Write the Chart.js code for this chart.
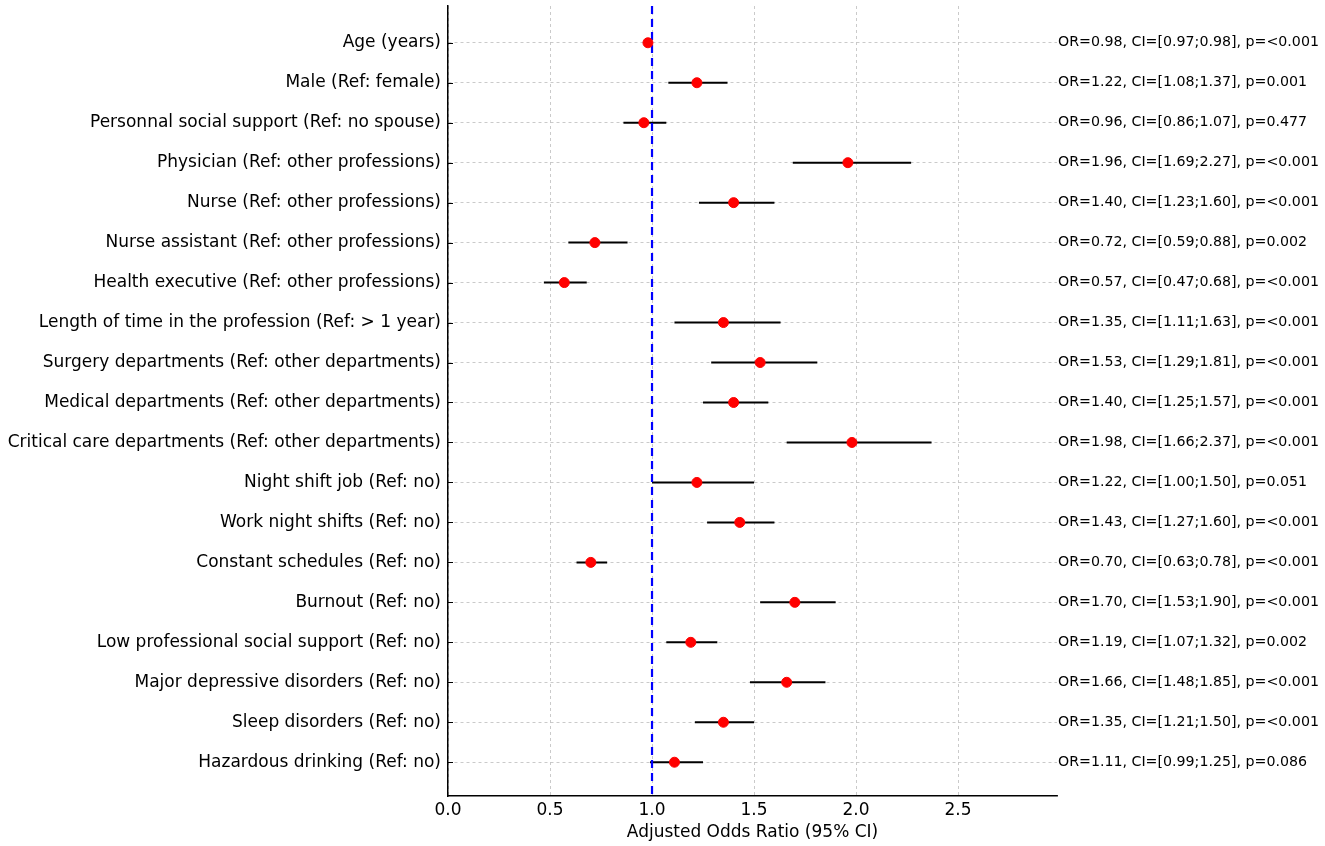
<!DOCTYPE html>
<html>
<head>
<meta charset="utf-8">
<script src="https://cdn.jsdelivr.net/npm/chart.js@4.4.1/dist/chart.umd.min.js"></script>
<style>
  html, body { margin: 0; padding: 0; background: #fff; }
  #wrap { width: 1325px; height: 846px; position: relative; }
</style>
</head>
<body>
<div id="wrap"><canvas id="forest"></canvas></div>
<script>
/* Forest plot — adjusted odds ratios */
const labels = [
  'Age (years)',
  'Male (Ref: female)',
  'Personnal social support (Ref: no spouse)',
  'Physician (Ref: other professions)',
  'Nurse (Ref: other professions)',
  'Nurse assistant (Ref: other professions)',
  'Health executive (Ref: other professions)',
  'Length of time in the profession (Ref: > 1 year)',
  'Surgery departments (Ref: other departments)',
  'Medical departments (Ref: other departments)',
  'Critical care departments (Ref: other departments)',
  'Night shift job (Ref: no)',
  'Work night shifts (Ref: no)',
  'Constant schedules (Ref: no)',
  'Burnout (Ref: no)',
  'Low professional social support (Ref: no)',
  'Major depressive disorders (Ref: no)',
  'Sleep disorders (Ref: no)',
  'Hazardous drinking (Ref: no)'
];
const oddsRatio = [0.98, 1.22, 0.96, 1.96, 1.40, 0.72, 0.57, 1.35, 1.53, 1.40, 1.98, 1.22, 1.43, 0.70, 1.70, 1.19, 1.66, 1.35, 1.11];
const ciLow     = [0.97, 1.08, 0.86, 1.69, 1.23, 0.59, 0.47, 1.11, 1.29, 1.25, 1.66, 1.00, 1.27, 0.63, 1.53, 1.07, 1.48, 1.21, 0.99];
const ciHigh    = [0.98, 1.37, 1.07, 2.27, 1.60, 0.88, 0.68, 1.63, 1.81, 1.57, 2.37, 1.50, 1.60, 0.78, 1.90, 1.32, 1.85, 1.50, 1.25];
const pValues   = ['<0.001', '0.001', '0.477', '<0.001', '<0.001', '0.002', '<0.001', '<0.001', '<0.001', '<0.001',
                   '<0.001', '0.051', '<0.001', '<0.001', '<0.001', '0.002', '<0.001', '<0.001', '0.086'];
const xTicks    = [0.0, 0.5, 1.0, 1.5, 2.0, 2.5];

const FONT = "'DejaVu Sans', sans-serif";
const Y_MIN = -0.92, Y_MAX = 18.85;

const datasets = [];

// CI whiskers, one short line per row
labels.forEach((_, i) => {
  datasets.push({
    type: 'line',
    data: [{ x: ciLow[i], y: i }, { x: ciHigh[i], y: i }],
    borderColor: '#000',
    borderWidth: 2,
    pointRadius: 0,
    pointHoverRadius: 0,
    fill: false,
    order: 2,
  });
});

// reference line at OR = 1
datasets.push({
  type: 'line',
  data: [{ x: 1, y: Y_MIN }, { x: 1, y: Y_MAX }],
  borderColor: '#0000ff',
  borderWidth: 2.2,
  borderDash: [8, 5],
  pointRadius: 0,
  fill: false,
  order: 1,
});

// point estimates
datasets.push({
  type: 'scatter',
  data: oddsRatio.map((v, i) => ({ x: v, y: i })),
  backgroundColor: '#ff0000',
  borderColor: '#ff0000',
  pointRadius: 5,
  order: 0,
});

const annotations = {
  id: 'annotations',
  afterDraw(chart) {
    const { ctx, chartArea, scales } = chart;
    ctx.save();
    ctx.fillStyle = '#000';
    ctx.font = '14.2px ' + FONT;
    ctx.textAlign = 'left';
    ctx.textBaseline = 'middle';
    labels.forEach((_, i) => {
      const txt = `OR=${oddsRatio[i].toFixed(2)}, CI=[${ciLow[i].toFixed(2)};${ciHigh[i].toFixed(2)}], p=${pValues[i]}`;
      ctx.fillText(txt, chartArea.right + 1, scales.y.getPixelForValue(i));
    });
    // inward y tick marks
    ctx.strokeStyle = '#000';
    ctx.lineWidth = 1;
    labels.forEach((_, i) => {
      const y = Math.round(scales.y.getPixelForValue(i)) + 0.5;
      ctx.beginPath();
      ctx.moveTo(chartArea.left, y);
      ctx.lineTo(chartArea.left + 5, y);
      ctx.stroke();
    });
    ctx.restore();
  }
};

new Chart(document.getElementById('forest'), {
  data: { datasets },
  plugins: [annotations],
  options: {
    responsive: true,
    maintainAspectRatio: false,
    animation: false,
    layout: { padding: { top: 5, right: 268, bottom: 3, left: 0 } },
    plugins: {
      legend: { display: false },
      tooltip: { enabled: false }
    },
    scales: {
      x: {
        type: 'linear',
        min: 0,
        max: 2.985,
        afterBuildTicks: s => { s.ticks = xTicks.map(v => ({ value: v })); },
        ticks: {
          color: '#000',
          font: { family: FONT, size: 17 },
          padding: 4,
          maxRotation: 0,
          callback: v => Number(v).toFixed(1)
        },
        grid: { color: '#bdbdbd', lineWidth: 0.8, drawTicks: false },
        border: { display: true, color: '#000', width: 1.5, dash: [3, 3] },
        title: {
          display: true,
          text: 'Adjusted Odds Ratio (95% CI)',
          color: '#000',
          font: { family: FONT, size: 17 },
          padding: { top: -2, bottom: 0 }
        }
      },
      y: {
        type: 'linear',
        reverse: true,
        min: Y_MIN,
        max: Y_MAX,
        afterBuildTicks: s => { s.ticks = labels.map((_, i) => ({ value: i })); },
        afterFit: s => { s.width = 448; s.paddingTop = 0; s.paddingBottom = 0; },
        ticks: {
          color: '#000',
          font: { family: FONT, size: 17 },
          padding: 7,
          autoSkip: false,
          callback: v => labels[v]
        },
        grid: { color: '#bdbdbd', lineWidth: 0.8, drawTicks: false },
        border: { display: true, color: '#000', width: 1.5, dash: [3, 3] }
      }
    }
  }
});
</script>
</body>
</html>
